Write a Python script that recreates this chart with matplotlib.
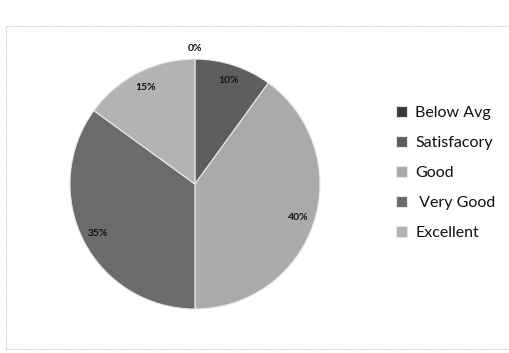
import matplotlib
matplotlib.use("Agg")
import matplotlib.pyplot as plt
from matplotlib.patches import Rectangle

categories = ["Below Avg", "Satisfacory", "Good", " Very Good", "Excellent"]
values = [0, 10, 40, 35, 15]
colors = ["#3a3a3a", "#5e5e5e", "#aaaaaa", "#6b6b6b", "#b3b3b3"]

plt.rcParams['font.family'] = ['Lato', 'DejaVu Sans']

fig = plt.figure(figsize=(5.09, 3.53), dpi=100)
fig.patch.set_facecolor("white")

# faint chart border
fig.add_artist(Rectangle((0.012, 0.01), 1.2, 0.915, transform=fig.transFigure,
                         fill=False, edgecolor="#bdbdbd", linewidth=0.8,
                         linestyle=(0, (1, 1))))

ax = fig.add_axes([0.1375, 0.1246, 0.491, 0.708])
wedges, texts, autotexts = ax.pie(
    values, colors=colors, startangle=90, counterclock=False,
    autopct='%1.0f%%', pctdistance=0.87,
    wedgeprops=dict(edgecolor="#e8e8e8", linewidth=0.8),
    textprops=dict(fontsize=7.5, color="#111111", fontweight="bold"))
for t, v in zip(autotexts, values):
    if v == 0:
        x, y = t.get_position()
        t.set_position((x * 1.22, y * 1.22 + 0.02))
ax.set_xlim(-1, 1)
ax.set_ylim(-1, 1)
ax.set_aspect('equal')

leg = fig.legend(wedges, categories, loc='center left',
                 bbox_to_anchor=(0.75, 0.51), frameon=False,
                 fontsize=11.5, handlelength=0.7, handleheight=0.7,
                 handletextpad=0.5, labelspacing=1.0)
for t in leg.get_texts():
    t.set_color("#111111")

fig.savefig("out.png", dpi=100, facecolor="white")
